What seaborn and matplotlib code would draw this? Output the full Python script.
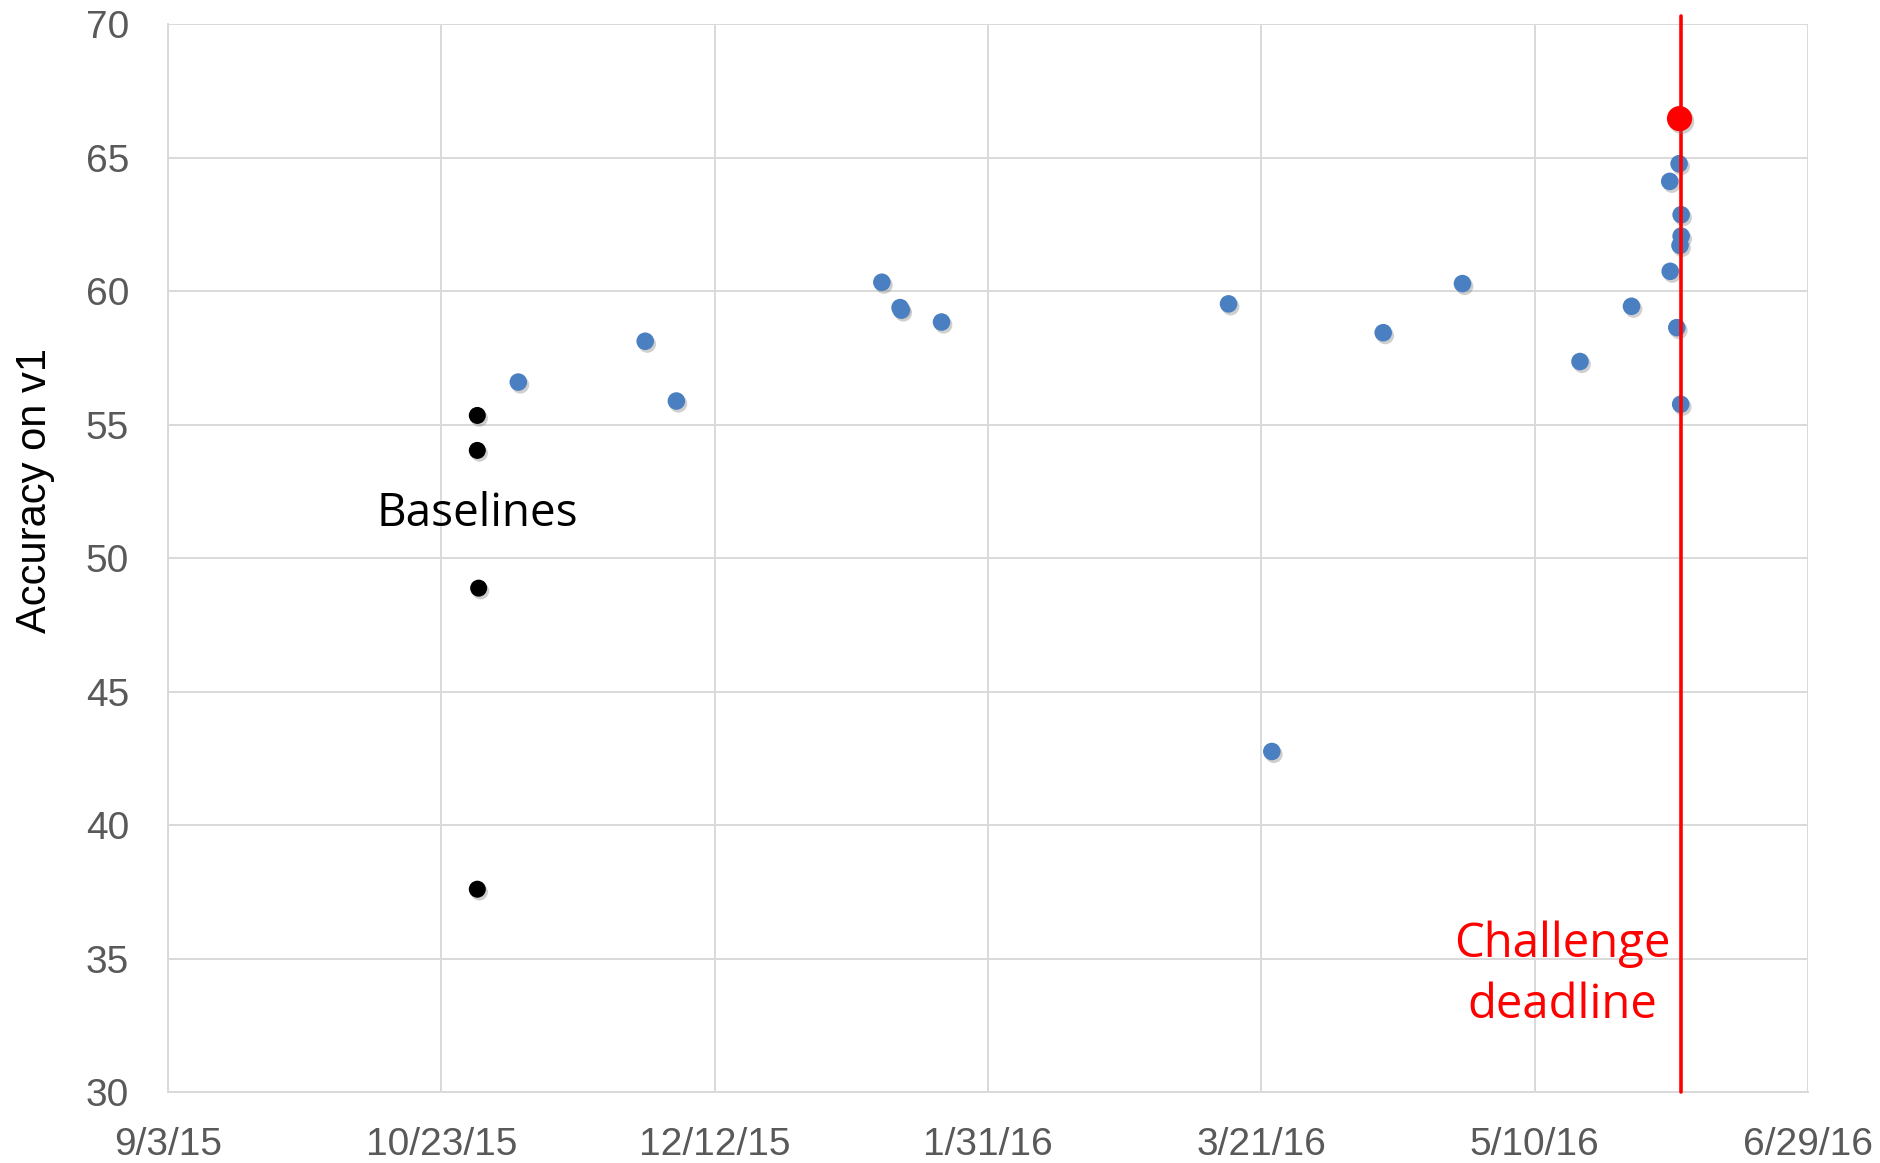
import pandas as pd
import matplotlib
matplotlib.use("Agg")
import matplotlib.pyplot as plt
import matplotlib.patheffects as pe
import seaborn as sns

# baseline methods (black)
baseline_dates = ["2015-10-29 14:00", "2015-10-29 14:00", "2015-10-29 20:00", "2015-10-29 14:00"]
baseline_acc = [55.35, 54.04, 48.88, 37.6]

# challenge entries (blue)
entry_dates = [
    "2015-11-06 02:00", "2015-11-29 07:00", "2015-12-05 00:00", "2016-01-11 14:00",
    "2016-01-14 22:00", "2016-01-15 03:00", "2016-01-22 12:00", "2016-03-15 00:00",
    "2016-03-22 22:00", "2016-04-12 07:00", "2016-04-26 19:00", "2016-05-18 07:00",
    "2016-05-27 17:00", "2016-06-03 17:00", "2016-06-03 19:00", "2016-06-05 00:00",
    "2016-06-05 10:00", "2016-06-05 19:00", "2016-06-05 19:00", "2016-06-05 14:00",
    "2016-06-05 17:00",
]
entry_acc = [
    56.6, 58.13, 55.89, 60.34,
    59.39, 59.3, 58.85, 59.53,
    42.76, 58.45, 60.29, 57.37,
    59.44, 64.12, 60.75, 58.64,
    64.78, 62.87, 62.07, 61.72,
    55.77,
]

# best entry (red)
best_date = ["2016-06-05 12:00"]
best_acc = [66.47]

deadline = "2016-06-05 17:00"

tick_dates = ["2015-09-03", "2015-10-23", "2015-12-12", "2016-01-31",
              "2016-03-21", "2016-05-10", "2016-06-29"]
tick_labels = ["9/3/15", "10/23/15", "12/12/15", "1/31/16", "3/21/16", "5/10/16", "6/29/16"]
y_ticks = [30, 35, 40, 45, 50, 55, 60, 65, 70]

baselines = pd.DataFrame({"date": pd.to_datetime(baseline_dates), "acc": baseline_acc})
entries = pd.DataFrame({"date": pd.to_datetime(entry_dates), "acc": entry_acc})
best = pd.DataFrame({"date": pd.to_datetime(best_date), "acc": best_acc})

sns.set_style("white")
plt.rcParams["font.family"] = ["Liberation Sans", "DejaVu Sans"]

fig = plt.figure(figsize=(18.81, 11.63), dpi=100)
ax = fig.add_axes([0.0893, 0.061, 0.8719, 0.918])

shadow = [pe.SimplePatchShadow(offset=(1.5, -2), shadow_rgbFace="#777777", alpha=0.35), pe.Normal()]

sns.scatterplot(data=entries, x="date", y="acc", ax=ax, color="#4a7fc1", s=160,
                linewidth=0, zorder=3, path_effects=shadow)
sns.scatterplot(data=baselines, x="date", y="acc", ax=ax, color="black", s=150,
                linewidth=0, zorder=3, path_effects=shadow)

ax.axvline(pd.Timestamp(deadline), ymin=0, ymax=1.008, color="red", lw=2.6,
           zorder=4, clip_on=False)

sns.scatterplot(data=best, x="date", y="acc", ax=ax, color="red", s=330,
                linewidth=0, zorder=5, path_effects=shadow)

ax.set_xlim(pd.Timestamp(tick_dates[0]), pd.Timestamp(tick_dates[-1]))
ax.set_ylim(30, 70)
ax.set_xticks(pd.to_datetime(tick_dates))
ax.set_xticklabels(tick_labels)
ax.set_yticks(y_ticks)

ax.grid(True, color="#d9d9d9", lw=1.4)
ax.set_axisbelow(True)
for side in ["top", "right"]:
    ax.spines[side].set_visible(False)
for side in ["left", "bottom"]:
    ax.spines[side].set_color("#d9d9d9")
    ax.spines[side].set_linewidth(1.4)

ax.tick_params(axis="both", length=0, labelsize=28, colors="#595959")
ax.tick_params(axis="y", pad=28)
ax.tick_params(axis="x", pad=25)

ax.set_xlabel("")
ax.set_ylabel("Accuracy on v1", fontsize=30, color="black")
ax.yaxis.set_label_coords(-0.069, 0.563)

ax.text(pd.Timestamp("2015-10-29 14:00"), 51.66, "Baselines", fontsize=33,
        family=["Open Sans", "DejaVu Sans"], ha="center", va="center", color="black")
ax.text(pd.Timestamp("2016-05-15 00:00"), 34.4, "Challenge\ndeadline", fontsize=34,
        family=["Open Sans", "DejaVu Sans"], ha="center", va="center", color="red",
        linespacing=1.38)

fig.savefig("out.png", dpi=100)
